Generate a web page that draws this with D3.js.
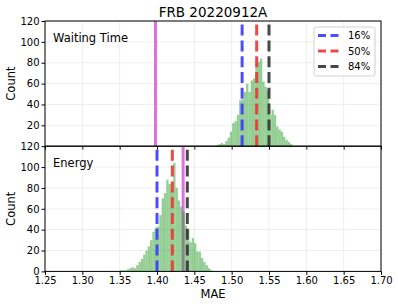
<!DOCTYPE html>
<html>
<head>
<meta charset="utf-8">
<script src="https://cdn.jsdelivr.net/npm/d3@7"></script>
<style>
  body { margin: 0; background: #fff; }
  text { font-family: "DejaVu Sans", sans-serif; fill: #000; }
</style>
</head>
<body>
<svg id="mainSvg" width="398" height="307"></svg>
<script>
// histogram bins: start, width, counts
var binWidth = 0.0031;
var waitStart = 1.479;
var waitCounts = [1, 2, 3, 2, 5, 8, 14, 22, 24, 30, 44, 45, 52, 60, 52, 63, 65, 79, 81, 84,
                  62, 57, 54, 30, 35, 30, 19, 16, 14, 9, 6, 4, 2];
var energyStart = 1.3504;
var energyCounts = [1, 1, 1, 2, 3, 4, 3, 6, 9, 12, 16, 20, 24, 30, 38, 42, 43, 54, 70, 75,
                    88, 84, 78, 104, 80, 68, 62, 57, 44, 40, 28, 32, 27, 19, 19, 13, 9, 6, 3, 1];

// reference values
var waitObserved = 1.398;
var energyObserved = 1.435;
var waitPct = [1.514, 1.5335, 1.550];
var energyPct = [1.400, 1.4205, 1.4406];
var pctLabels = ["16%", "50%", "84%"];
var pctColors = ["#3a3aff", "#ee3333", "#333333"];

var xTicks = [1.25, 1.30, 1.35, 1.40, 1.45, 1.50, 1.55, 1.60, 1.65, 1.70];
var yTicks = [0, 20, 40, 60, 80, 100, 120];

var left = 45, right = 381;
var panelH = 125.2;
var panels = [
    {name: "Waiting Time", top: 21, start: waitStart, counts: waitCounts, obs: waitObserved, pct: waitPct},
    {name: "Energy", top: 21 + panelH, start: energyStart, counts: energyCounts, obs: energyObserved, pct: energyPct}
];

var svg = d3.select("#mainSvg");
var x = d3.scaleLinear().domain([1.25, 1.70]).range([left, right]);

panels.forEach(function(p, pi){
    var y = d3.scaleLinear().domain([0, 120]).range([p.top + panelH, p.top]);
    var g = svg.append("g").attr("class", "panel" + pi);

    // grid
    g.selectAll(".gx").data(xTicks).enter().append("line")
        .attr("x1", function(d){ return x(d); }).attr("x2", function(d){ return x(d); })
        .attr("y1", p.top).attr("y2", p.top + panelH)
        .attr("stroke", "#b0b0b0").attr("stroke-opacity", 0.25).attr("stroke-width", 0.8);
    g.selectAll(".gy").data(yTicks).enter().append("line")
        .attr("x1", left).attr("x2", right)
        .attr("y1", function(d){ return y(d); }).attr("y2", function(d){ return y(d); })
        .attr("stroke", "#b0b0b0").attr("stroke-opacity", 0.25).attr("stroke-width", 0.8);

    // observed value line
    g.append("line")
        .attr("x1", x(p.obs)).attr("x2", x(p.obs))
        .attr("y1", p.top).attr("y2", p.top + panelH)
        .attr("stroke", "#dc72dc").attr("stroke-width", 3);

    // histogram
    g.selectAll(".bar").data(p.counts).enter().append("rect")
        .attr("x", function(d, i){ return x(p.start + i * binWidth); })
        .attr("width", function(d, i){ return x(p.start + (i + 1) * binWidth) - x(p.start + i * binWidth); })
        .attr("y", function(d){ return y(d); })
        .attr("height", function(d){ return y(0) - y(d); })
        .attr("fill", "#2ca02c").attr("fill-opacity", 0.5);

    // percentile lines
    g.selectAll(".pct").data(p.pct).enter().append("line")
        .attr("x1", function(d){ return x(d); }).attr("x2", function(d){ return x(d); })
        .attr("y1", p.top + panelH).attr("y2", p.top)
        .attr("stroke", function(d, i){ return pctColors[i]; })
        .attr("stroke-opacity", 0.9)
        .attr("stroke-width", 3)
        .attr("stroke-dasharray", "11,4.8");

    // axes
    var yAxis = d3.axisLeft(y).tickValues(pi == 0 ? yTicks.slice(1) : yTicks)
        .tickSize(3.5).tickPadding(2).tickFormat(d3.format("d"));
    var ya = g.append("g").attr("transform", "translate(" + left + ",0)").call(yAxis);
    ya.select(".domain").remove();
    ya.selectAll("text").attr("font-size", "10px").attr("font-family", "DejaVu Sans");

    var xAxis = d3.axisBottom(x).tickValues(xTicks).tickSize(3.5).tickPadding(2.5)
        .tickFormat(pi == 0 ? "" : d3.format(".2f"));
    var xa = g.append("g").attr("transform", "translate(0," + (p.top + panelH) + ")").call(xAxis);
    xa.select(".domain").remove();
    xa.selectAll("text").attr("font-size", "10px").attr("font-family", "DejaVu Sans");

    // frame
    g.append("rect")
        .attr("x", left).attr("y", p.top)
        .attr("width", right - left).attr("height", panelH)
        .attr("fill", "none").attr("stroke", "#000").attr("stroke-width", 1);

    g.append("text")
        .attr("x", 53).attr("y", p.top + 20.5)
        .attr("font-size", "11.5px")
        .text(p.name);

    g.append("text")
        .attr("transform", "translate(15," + (p.top + panelH / 2) + ") rotate(-90)")
        .attr("text-anchor", "middle")
        .attr("font-size", "11.5px")
        .text("Count");
});

// title and x label
svg.append("text")
    .attr("x", (left + right) / 2).attr("y", 17)
    .attr("text-anchor", "middle").attr("font-size", "13.5px")
    .text("FRB 20220912A");

svg.append("text")
    .attr("x", (left + right) / 2).attr("y", 298)
    .attr("text-anchor", "middle").attr("font-size", "11.5px")
    .text("MAE");

// legend
var legend = svg.append("g").attr("transform", "translate(314,27)");
legend.append("rect")
    .attr("width", 61).attr("height", 49).attr("rx", 2.5)
    .attr("fill", "#fff").attr("fill-opacity", 0.8)
    .attr("stroke", "#d0d0d0").attr("stroke-width", 1);
var legendRow = legend.selectAll(".legendRow").data(pctLabels).enter().append("g")
    .attr("transform", function(d, i){ return "translate(0," + (8.5 + i * 15.5) + ")"; });
legendRow.append("line")
    .attr("x1", 4).attr("x2", 26)
    .attr("stroke", function(d, i){ return pctColors[i]; })
    .attr("stroke-opacity", 0.9)
    .attr("stroke-width", 3).attr("stroke-dasharray", "8,4.5");
legendRow.append("text")
    .attr("x", 34).attr("dy", "0.35em")
    .attr("font-size", "10px")
    .text(function(d){ return d; });
</script>
</body>
</html>
